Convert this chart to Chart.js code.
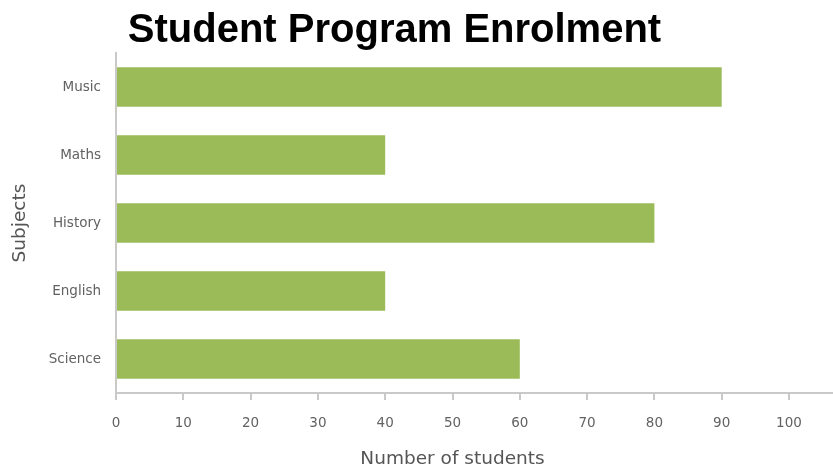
<!DOCTYPE html>
<html>
<head>
<meta charset="utf-8">
<title>Student Program Enrolment</title>
<script src="https://cdn.jsdelivr.net/npm/chart.js@4.4.1/dist/chart.umd.min.js"></script>
<style>
  html, body { margin: 0; padding: 0; background: #ffffff; overflow: hidden; }
  #wrap { width: 833px; height: 468px; position: relative; }
</style>
</head>
<body>
<div id="wrap"><canvas id="chart"></canvas></div>
<script>
// Enrolment per subject, listed top to bottom
const subjects = ['Music', 'Maths', 'History', 'English', 'Science'];
const students = [90, 40, 80, 40, 60];

// Value axis range
const axisMin = 0;
const axisMax = 100;
const axisStep = 10;

const AXIS_GREY = '#c9c9c9';
const LABEL_GREY = '#626262';
const BAR_GREEN = '#9bbb59';

// Carries the baseline of the value axis on to the right edge of the canvas
const axisTail = {
  id: 'axisTail',
  afterDraw(chart) {
    const xs = chart.scales.x;
    const ctx = chart.ctx;
    const y = Math.round(xs.top);
    ctx.save();
    ctx.strokeStyle = AXIS_GREY;
    ctx.lineWidth = 2;
    ctx.beginPath();
    ctx.moveTo(chart.chartArea.right, y);
    ctx.lineTo(chart.width, y);
    ctx.stroke();
    ctx.restore();
  }
};

new Chart(document.getElementById('chart'), {
  type: 'bar',
  data: {
    labels: subjects,
    datasets: [{
      label: 'Number of students',
      data: students,
      backgroundColor: BAR_GREEN,
      borderWidth: 0,
      categoryPercentage: 1.0,
      barPercentage: 0.58
    }]
  },
  options: {
    indexAxis: 'y',
    responsive: true,
    maintainAspectRatio: false,
    animation: false,
    layout: { padding: { top: 0, right: 44, bottom: 0, left: 0 } },
    plugins: {
      legend: { display: false },
      tooltip: { enabled: false },
      title: {
        display: true,
        text: 'Student Program Enrolment',
        color: '#000000',
        font: { family: '"Liberation Sans", Arial, sans-serif', size: 40, weight: 'bold', lineHeight: 1.1 },
        padding: { top: 9, bottom: 0 }
      }
    },
    scales: {
      x: {
        type: 'linear',
        min: axisMin,
        max: axisMax,
        afterFit(scale) { scale.height = 75; },
        grid: {
          display: true,
          drawOnChartArea: false,
          drawTicks: true,
          tickLength: 7,
          color: AXIS_GREY,
          lineWidth: 2
        },
        border: { display: true, color: AXIS_GREY, width: 2 },
        ticks: {
          stepSize: axisStep,
          color: LABEL_GREY,
          padding: 15,
          font: { family: '"DejaVu Sans", sans-serif', size: 13.5 }
        },
        title: {
          display: true,
          text: 'Number of students',
          color: '#555555',
          font: { family: '"DejaVu Sans", sans-serif', size: 18.5, lineHeight: 1.0 },
          padding: { top: 0, bottom: 0 }
        }
      },
      y: {
        afterFit(scale) { scale.width = 116; },
        grid: { display: false, drawTicks: false },
        border: { display: true, color: AXIS_GREY, width: 2 },
        ticks: {
          color: LABEL_GREY,
          padding: 15,
          font: { family: '"DejaVu Sans", sans-serif', size: 13.5 }
        },
        title: {
          display: true,
          text: 'Subjects',
          color: '#555555',
          font: { family: '"DejaVu Sans", sans-serif', size: 18.5, lineHeight: 1.2 },
          padding: { top: 9, bottom: 0 }
        }
      }
    }
  },
  plugins: [axisTail]
});
</script>
</body>
</html>
